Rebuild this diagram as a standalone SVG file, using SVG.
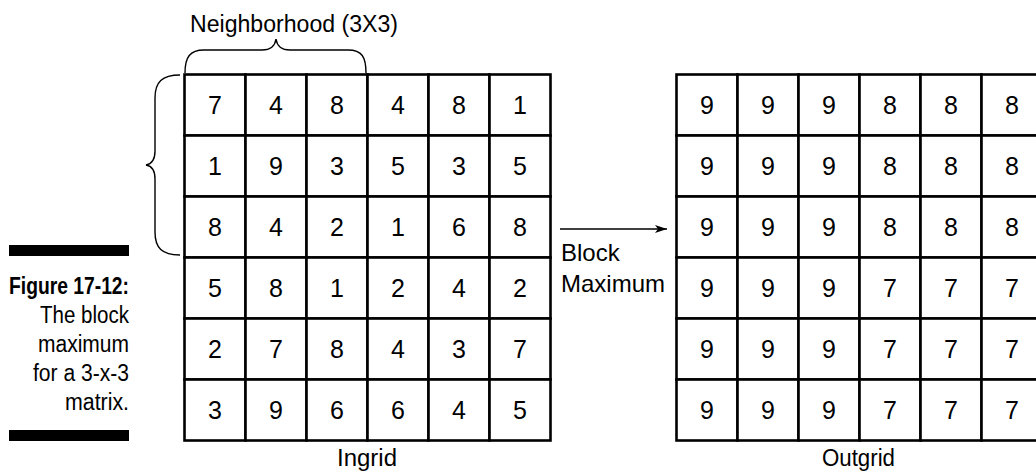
<svg xmlns="http://www.w3.org/2000/svg" width="1036" height="473" viewBox="0 0 1036 473">
<style>
text{font-family:"Liberation Sans",Arial,sans-serif;fill:#000}
.cell{fill:#fff;stroke:#000;stroke-width:2.6}
.num{font-size:25px;text-anchor:middle}
.lbl{font-size:23px;text-anchor:middle}
.cap{font-size:23px;text-anchor:end}
.brace{fill:none;stroke:#000;stroke-width:1.4}
.bar{fill:#000}
</style>
<defs>
<marker id="ah" viewBox="0 0 12 8" refX="12" refY="4" markerWidth="12" markerHeight="8" markerUnits="userSpaceOnUse" orient="auto">
<path d="M0,0 L12,4 L0,8 L3,4 Z" fill="#000"/>
</marker>
<g id="row6">
<rect class="cell" x="0" y="0" width="61" height="61"/>
<rect class="cell" x="61" y="0" width="61" height="61"/>
<rect class="cell" x="122" y="0" width="61" height="61"/>
<rect class="cell" x="183" y="0" width="61" height="61"/>
<rect class="cell" x="244" y="0" width="61" height="61"/>
<rect class="cell" x="305" y="0" width="61" height="61"/>
</g>
</defs>

<g id="caption">
<rect class="bar" x="9" y="245" width="120" height="11"/>
<text x="129" y="294" style="font-size:24px;font-weight:bold;text-anchor:end" textLength="120" lengthAdjust="spacingAndGlyphs">Figure 17-12:</text>
<text class="cap" x="129" y="322.5" textLength="89" lengthAdjust="spacingAndGlyphs">The block</text>
<text class="cap" x="129" y="351.5" textLength="91" lengthAdjust="spacingAndGlyphs">maximum</text>
<text class="cap" x="129" y="380.5" textLength="96" lengthAdjust="spacingAndGlyphs">for a 3-x-3</text>
<text class="cap" x="129" y="409.5" textLength="64" lengthAdjust="spacingAndGlyphs">matrix.</text>
<rect class="bar" x="9" y="430" width="120" height="11"/>
</g>

<g id="neighborhood">
<text class="lbl" x="294" y="31.5" textLength="208" lengthAdjust="spacingAndGlyphs">Neighborhood (3X3)</text>
<path class="brace" d="M185,73 C185,57 190,50 204,50 L262,50 C271,50 275,46 276,39 C277,46 281,50 290,50 L348,50 C362,50 366,57 366,73"/>
<path class="brace" d="M180,75 C162,75 155,82 155,98 L155,151 C155,160 152,164 146,165 C152,166 155,170 155,179 L155,232 C155,248 162,255 180,255"/>
</g>

<g id="ingrid">
<use href="#row6" x="184.5" y="74.5"/>
<use href="#row6" x="184.5" y="135.5"/>
<use href="#row6" x="184.5" y="196.5"/>
<use href="#row6" x="184.5" y="257.5"/>
<use href="#row6" x="184.5" y="318.5"/>
<use href="#row6" x="184.5" y="379.5"/>
<g class="num">
<text x="215" y="114">7</text><text x="276" y="114">4</text><text x="337" y="114">8</text><text x="398" y="114">4</text><text x="459" y="114">8</text><text x="520" y="114">1</text>
<text x="215" y="175">1</text><text x="276" y="175">9</text><text x="337" y="175">3</text><text x="398" y="175">5</text><text x="459" y="175">3</text><text x="520" y="175">5</text>
<text x="215" y="236">8</text><text x="276" y="236">4</text><text x="337" y="236">2</text><text x="398" y="236">1</text><text x="459" y="236">6</text><text x="520" y="236">8</text>
<text x="215" y="297">5</text><text x="276" y="297">8</text><text x="337" y="297">1</text><text x="398" y="297">2</text><text x="459" y="297">4</text><text x="520" y="297">2</text>
<text x="215" y="358">2</text><text x="276" y="358">7</text><text x="337" y="358">8</text><text x="398" y="358">4</text><text x="459" y="358">3</text><text x="520" y="358">7</text>
<text x="215" y="419">3</text><text x="276" y="419">9</text><text x="337" y="419">6</text><text x="398" y="419">6</text><text x="459" y="419">4</text><text x="520" y="419">5</text>
</g>
<text class="lbl" x="367" y="466" textLength="60" lengthAdjust="spacingAndGlyphs">Ingrid</text>
</g>

<g id="outgrid">
<use href="#row6" x="676.5" y="74.5"/>
<use href="#row6" x="676.5" y="135.5"/>
<use href="#row6" x="676.5" y="196.5"/>
<use href="#row6" x="676.5" y="257.5"/>
<use href="#row6" x="676.5" y="318.5"/>
<use href="#row6" x="676.5" y="379.5"/>
<g class="num">
<text x="707" y="114">9</text><text x="768" y="114">9</text><text x="829" y="114">9</text><text x="890" y="114">8</text><text x="951" y="114">8</text><text x="1012" y="114">8</text>
<text x="707" y="175">9</text><text x="768" y="175">9</text><text x="829" y="175">9</text><text x="890" y="175">8</text><text x="951" y="175">8</text><text x="1012" y="175">8</text>
<text x="707" y="236">9</text><text x="768" y="236">9</text><text x="829" y="236">9</text><text x="890" y="236">8</text><text x="951" y="236">8</text><text x="1012" y="236">8</text>
<text x="707" y="297">9</text><text x="768" y="297">9</text><text x="829" y="297">9</text><text x="890" y="297">7</text><text x="951" y="297">7</text><text x="1012" y="297">7</text>
<text x="707" y="358">9</text><text x="768" y="358">9</text><text x="829" y="358">9</text><text x="890" y="358">7</text><text x="951" y="358">7</text><text x="1012" y="358">7</text>
<text x="707" y="419">9</text><text x="768" y="419">9</text><text x="829" y="419">9</text><text x="890" y="419">7</text><text x="951" y="419">7</text><text x="1012" y="419">7</text>
</g>
<text class="lbl" x="858.5" y="466" textLength="73" lengthAdjust="spacingAndGlyphs">Outgrid</text>
</g>

<g id="connectors">
<line x1="560" y1="229" x2="667" y2="229" stroke="#000" stroke-width="1.3" marker-end="url(#ah)"/>
<text x="561" y="260.5" style="font-size:24px">Block</text>
<text x="561" y="291.5" style="font-size:24px">Maximum</text>
</g>
</svg>
